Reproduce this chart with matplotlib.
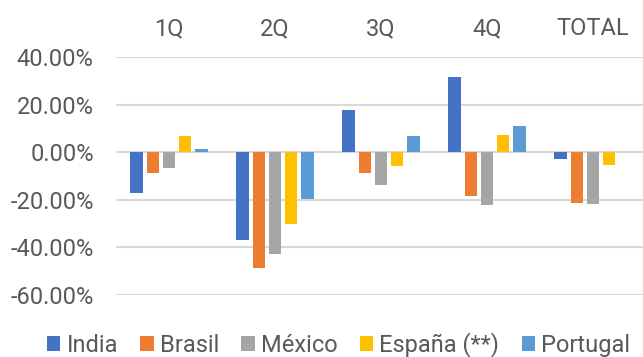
import matplotlib
matplotlib.use("Agg")
import matplotlib.pyplot as plt
import numpy as np
from matplotlib.patches import Patch

categories = ["1Q", "2Q", "3Q", "4Q", "TOTAL"]
series_names = ["India", "Brasil", "México", "España (**)", "Portugal"]
india = [-17.2, -36.8, 17.9, 31.7, -2.8]
brasil = [-8.6, -48.8, -8.6, -18.4, -21.4]
mexico = [-6.7, -42.9, -13.7, -22.3, -21.7]
espana = [7.0, -30.0, -5.9, 7.4, -5.4]
portugal = [1.5, -19.8, 6.6, 10.9, 0.0]
yticks = [-60, -40, -20, 0, 20, 40]
colors = ["#4472C4", "#ED7D31", "#A5A5A5", "#FFC000", "#5B9BD5"]

plt.rcParams['font.family'] = ['Roboto', 'DejaVu Sans']
txt = "#595959"
fs = 17

fig = plt.figure(figsize=(6.43, 3.57), dpi=100)
W, H = 643, 357
left, right = 116, 646
top, bottom = 57, 295
ax = fig.add_axes([left / W, 1 - bottom / H, (right - left) / W, (bottom - top) / H])

data = [india, brasil, mexico, espana, portugal]
x = np.arange(len(categories))
step = 0.153
width = 0.116
for i, (vals, c, name) in enumerate(zip(data, colors, series_names)):
    ax.bar(x + (i - 2) * step, vals, width=width, color=c, label=name, zorder=3)

ax.set_xlim(-0.5, len(categories) - 0.5)
ax.set_ylim(-60, 40)
ax.set_yticks(yticks)
ax.set_yticklabels([f"{v:.2f}%" for v in yticks])
ax.yaxis.grid(True, color="#D9D9D9", linewidth=1.5, zorder=0)
for s in ax.spines.values():
    s.set_visible(False)
ax.xaxis.tick_top()
ax.set_xticks(x)
ax.set_xticklabels(categories)
ax.tick_params(axis="x", length=0, pad=12, labelsize=fs, labelcolor=txt)
ax.tick_params(axis="y", length=0, pad=16, labelsize=fs, labelcolor=txt)

handles = [Patch(facecolor=c, label=n) for c, n in zip(colors, series_names)]
fig.legend(handles=handles, loc="center", bbox_to_anchor=(338.5 / W, 1 - 345 / H), ncol=5,
           frameon=False, fontsize=fs, labelcolor=txt, handlelength=0.56, handleheight=0.56,
           handletextpad=0.26, columnspacing=0.95, borderaxespad=0, borderpad=0)

fig.savefig("out.png", dpi=100)
